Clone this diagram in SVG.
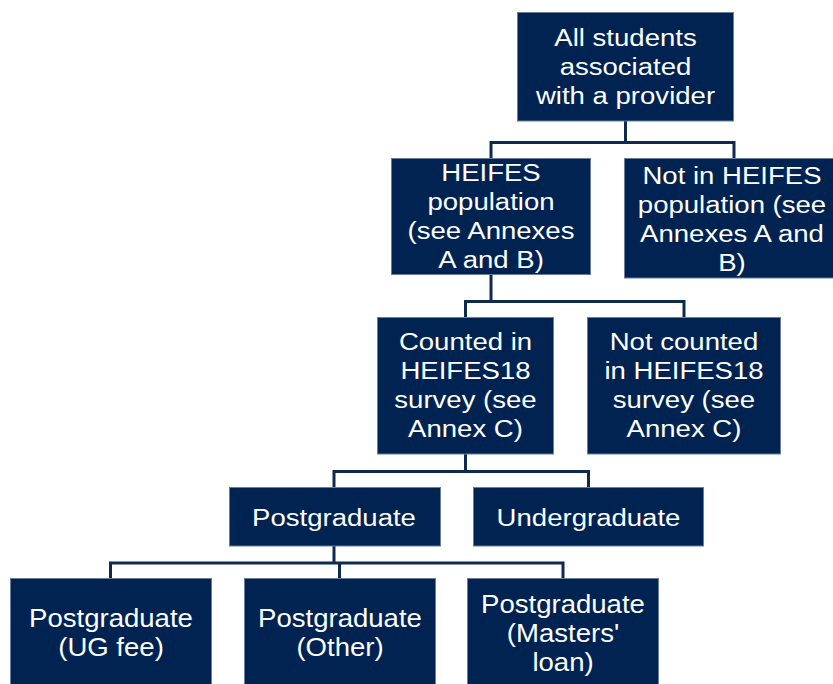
<svg xmlns="http://www.w3.org/2000/svg" width="833" height="684" viewBox="0 0 833 684">
<style>
.box{fill:#002352;stroke:#6a7d9c;stroke-width:1}
.t{font-family:"Liberation Sans",Arial,sans-serif;fill:#ffffff;text-anchor:middle}
.a{font-size:24.6px}
.b{font-size:26.5px}
.c{fill:none;stroke:#0f2a4d;stroke-width:3}
</style>
<rect width="833" height="684" fill="#ffffff"/>
<g id="connectors">
<path class="c" d="M625.5 121V142.5M491 158V142.5H734V158"/>
<path class="c" d="M491 275V301.5M465.5 317V301.5H684V317"/>
<path class="c" d="M465.5 454V471.5M334 487V471.5H588.5V487"/>
<path class="c" d="M334 546V563M110.5 578V563H563V578M339.5 563V578"/>
</g>
<g id="n1">
<rect class="box" x="517.5" y="12.5" width="216" height="108.5"/>
<g class="t a" transform="translate(625.5,0) scale(1.12,1)">
<text y="46.5">All students</text><text y="75.5">associated</text><text y="104">with a provider</text>
</g>
</g>
<g id="n2">
<rect class="box" x="391.5" y="158.5" width="199" height="116"/>
<g class="t a" transform="translate(491,0) scale(1.12,1)">
<text y="181.5">HEIFES</text><text y="210.5">population</text><text y="239.5">(see Annexes</text><text y="268.5">A and B)</text>
</g>
</g>
<g id="n3">
<rect class="box" x="624.5" y="158.5" width="216" height="119.5"/>
<g class="t a" transform="translate(732,0) scale(1.12,1)">
<text y="184.5">Not in HEIFES</text><text y="213.5">population (see</text><text y="242.5">Annexes A and</text><text y="271.5">B)</text>
</g>
</g>
<g id="n4">
<rect class="box" x="377.5" y="317.5" width="176" height="136.5"/>
<g class="t a" transform="translate(465.5,0) scale(1.12,1)">
<text y="350">Counted in</text><text y="379">HEIFES18</text><text y="408">survey (see</text><text y="437">Annex C)</text>
</g>
</g>
<g id="n5">
<rect class="box" x="587.5" y="317.5" width="193" height="136.5"/>
<g class="t a" transform="translate(684,0) scale(1.12,1)">
<text y="350">Not counted</text><text y="379">in HEIFES18</text><text y="408">survey (see</text><text y="437">Annex C)</text>
</g>
</g>
<g id="n6">
<rect class="box" x="229.5" y="487.5" width="211" height="58.5"/>
<g class="t a" transform="translate(334,0) scale(1.12,1)"><text y="526">Postgraduate</text></g>
</g>
<g id="n7">
<rect class="box" x="473.5" y="487.5" width="230" height="58.5"/>
<g class="t a" transform="translate(588.5,0) scale(1.12,1)"><text y="526">Undergraduate</text></g>
</g>
<g id="n8">
<rect class="box" x="10.5" y="578.5" width="201" height="110"/>
<g class="t b" transform="translate(111,0) scale(1.04,1)">
<text y="627.5">Postgraduate</text><text y="656">(UG fee)</text>
</g>
</g>
<g id="n9">
<rect class="box" x="244.5" y="578.5" width="191" height="110"/>
<g class="t b" transform="translate(340,0) scale(1.04,1)">
<text y="627.5">Postgraduate</text><text y="656">(Other)</text>
</g>
</g>
<g id="n10">
<rect class="box" x="467.5" y="578.5" width="191" height="110"/>
<g class="t b" transform="translate(563,0) scale(1.04,1)">
<text y="613">Postgraduate</text><text y="642">(Masters'</text><text y="671">loan)</text>
</g>
</g>
</svg>
